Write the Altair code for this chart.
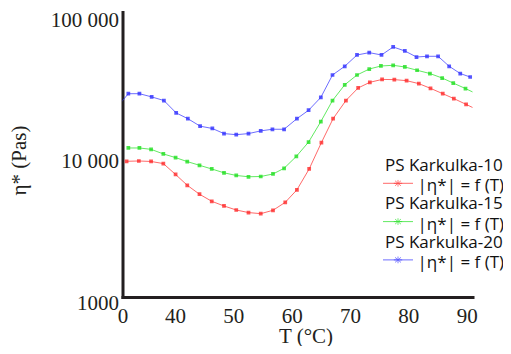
import altair as alt
import pandas as pd

# ---- data ----
series_names = ["PS Karkulka-10", "PS Karkulka-15", "PS Karkulka-20"]
series_colors = ["#ff2a2a", "#1fe01f", "#2f2fff"]
legend_label = "|η*| = f (T)"

t_10 = [31.7, 33.8, 35.9, 38.0, 40.1, 42.1, 44.2, 46.3, 48.4, 50.5, 52.6, 54.7, 56.8, 58.9, 60.9,
        63.0, 65.1, 67.1, 69.3, 71.4, 73.4, 75.5, 77.6, 79.7, 81.8, 83.8, 85.9, 87.8, 89.9, 91.9]
eta_10 = [9140, 9180, 9110, 8800, 7370, 6180, 5340, 4760, 4410, 4130, 3960, 3890, 4110, 4680, 5740,
          8060, 12400, 18300, 24600, 30200, 33100, 34700, 34600, 34000, 32400, 30000, 27500, 25400, 23100, 21100]

t_15 = [32.0, 33.9, 35.9, 38.0, 40.1, 42.1, 44.2, 46.3, 48.4, 50.5, 52.6, 54.7, 56.8, 58.7, 60.8,
        62.9, 65.0, 67.0, 69.1, 71.2, 73.3, 75.3, 77.4, 79.4, 81.5, 83.7, 85.8, 87.7, 89.8, 91.8]
eta_15 = [11350, 11350, 11100, 10300, 9700, 9090, 8560, 8060, 7570, 7250, 7100, 7130, 7430, 8150, 9900,
          12500, 17450, 24600, 31800, 37300, 41100, 43200, 43700, 42500, 40300, 38200, 35500, 32700, 29900, 27300]

t_20 = [29.9, 32.0, 33.9, 36.0, 38.1, 40.2, 42.2, 44.3, 46.4, 48.4, 50.5, 52.6, 54.7, 56.7, 58.7, 60.9,
        62.9, 65.0, 67.0, 69.1, 71.2, 73.3, 75.4, 77.4, 79.4, 81.4, 83.2, 85.1, 87.0, 88.9, 90.6]
eta_20 = [21700, 27500, 27500, 26100, 24600, 20100, 18300, 16200, 15600, 14350, 14100, 14350, 15000, 15400, 15400, 18300,
          21000, 25900, 37300, 43000, 51700, 53700, 51700, 58900, 55200, 50000, 50600, 50600, 43000, 38200, 36100]

x_tick_values = [31, 40, 50, 60, 70, 80, 90]
x_tick_labels = ["0", "40", "50", "60", "70", "80", "90"]
y_tick_values = [1000, 10000, 100000]
y_tick_labels = ["1000", "10 000", "100 000"]
x_domain = [31, 91]
y_domain = [1000, 104160]

# ---- build table ----
rows = []
for name, ts, es in zip(series_names, [t_10, t_15, t_20], [eta_10, eta_15, eta_20]):
    for k, (t, e) in enumerate(zip(ts, es)):
        rows.append({"series": name, "T": t, "eta": e, "k": k})
df = pd.DataFrame(rows)
leg_df = pd.DataFrame({"series": series_names, "i": list(range(len(series_names))),
                       "lab": [legend_label] * len(series_names)})

ink = "#231f20"
serif = "Liberation Serif"
sans = "Open Sans"

x_lab_expr = "{" + ",".join(f"'{v}':'{l}'" for v, l in zip(x_tick_values, x_tick_labels)) + "}[datum.value]"
y_lab_expr = "{" + ",".join(f"'{v}':'{l}'" for v, l in zip(y_tick_values, y_tick_labels)) + "}[datum.value]"

color = alt.Color("series:N", scale=alt.Scale(domain=series_names, range=series_colors), legend=None)

x_scale = alt.Scale(domain=x_domain, nice=False, zero=False)
y_scale = alt.Scale(type="log", domain=y_domain, nice=False)

x_enc = alt.X("T:Q", scale=x_scale,
              axis=alt.Axis(values=x_tick_values, labelExpr=x_lab_expr, title="T (°C)",
                            grid=False, ticks=False, tickSize=0,
                            domainColor=ink, domainWidth=3, domainCap="square",
                            labelFont=serif, labelFontSize=21, labelColor=ink, labelPadding=8,
                            labelBaseline="top", labelFlush=False,
                            titleFont=serif, titleFontSize=21, titleFontWeight="normal", titleColor=ink,
                            titleX=183, titleY=39, titleBaseline="middle", titleAlign="center"))
y_enc = alt.Y("eta:Q", scale=y_scale,
              axis=alt.Axis(values=y_tick_values, labelExpr=y_lab_expr, title="η* (Pas)",
                            grid=False, ticks=False, tickSize=0,
                            domainColor=ink, domainWidth=3, domainCap="square",
                            labelFont=serif, labelFontSize=21, labelColor=ink, labelPadding=4,
                            labelBaseline="middle", labelOffset=6, labelFlush=False,
                            titleFont=serif, titleFontSize=21, titleFontWeight="normal", titleColor=ink,
                            titleX=-103, titleY=148, titleBaseline="middle", titleAlign="center",
                            titleAngle=270))

base = alt.Chart(df)
lines = base.mark_line(clip=True, strokeWidth=1, opacity=0.7).encode(
    x=x_enc, y=y_enc, color=color, order="k:Q", detail="series:N")
points = base.mark_point(clip=True, shape="square", filled=True, size=14, opacity=0.8).encode(
    x=alt.X("T:Q", scale=x_scale), y=alt.Y("eta:Q", scale=y_scale), color=color)
main = alt.layer(lines, points)

asterisk = "M-1,0L1,0M0,-0.8L0,0.8M-0.7,-0.6L0.7,0.6M-0.7,0.6L0.7,-0.6"
lbase = alt.Chart(leg_df)
leg_names = lbase.mark_text(align="left", baseline="middle", font=sans, fontSize=17, color="#111111").encode(
    x=alt.value(262.5), y=alt.Y("ny:Q", scale=None, axis=None), text="series:N"
).transform_calculate(ny="153.7 + 38.7 * datum.i")
leg_labels = lbase.mark_text(align="left", baseline="middle", font=sans, fontSize=17, color="#111111").encode(
    x=alt.value(295), y=alt.Y("ly:Q", scale=None, axis=None), text="lab:N"
).transform_calculate(ly="174 + 38.7 * datum.i")
leg_rule = lbase.mark_rule(strokeWidth=1, opacity=0.7).encode(
    x=alt.value(260.5), x2=alt.value(290.5), y=alt.Y("sy:Q", scale=None, axis=None), color=color
).transform_calculate(sy="171.3 + 38.3 * datum.i")
leg_star = lbase.mark_point(shape=asterisk, filled=False, size=70, strokeWidth=1, opacity=0.6).encode(
    x=alt.value(275.5), y=alt.Y("sy:Q", scale=None, axis=None), color=color
).transform_calculate(sy="171.3 + 38.3 * datum.i")
legend = alt.layer(leg_rule, leg_star, leg_names, leg_labels)

chart = alt.layer(main, legend).resolve_scale(
    y="independent"
).properties(
    width=350, height=285, autosize="none",
    padding={"left": 114.5, "top": 4, "right": 30.5, "bottom": 49},
    background="white",
).configure_view(stroke=None)

chart.save("out.html", embed_options={"renderer": "svg", "actions": False})
